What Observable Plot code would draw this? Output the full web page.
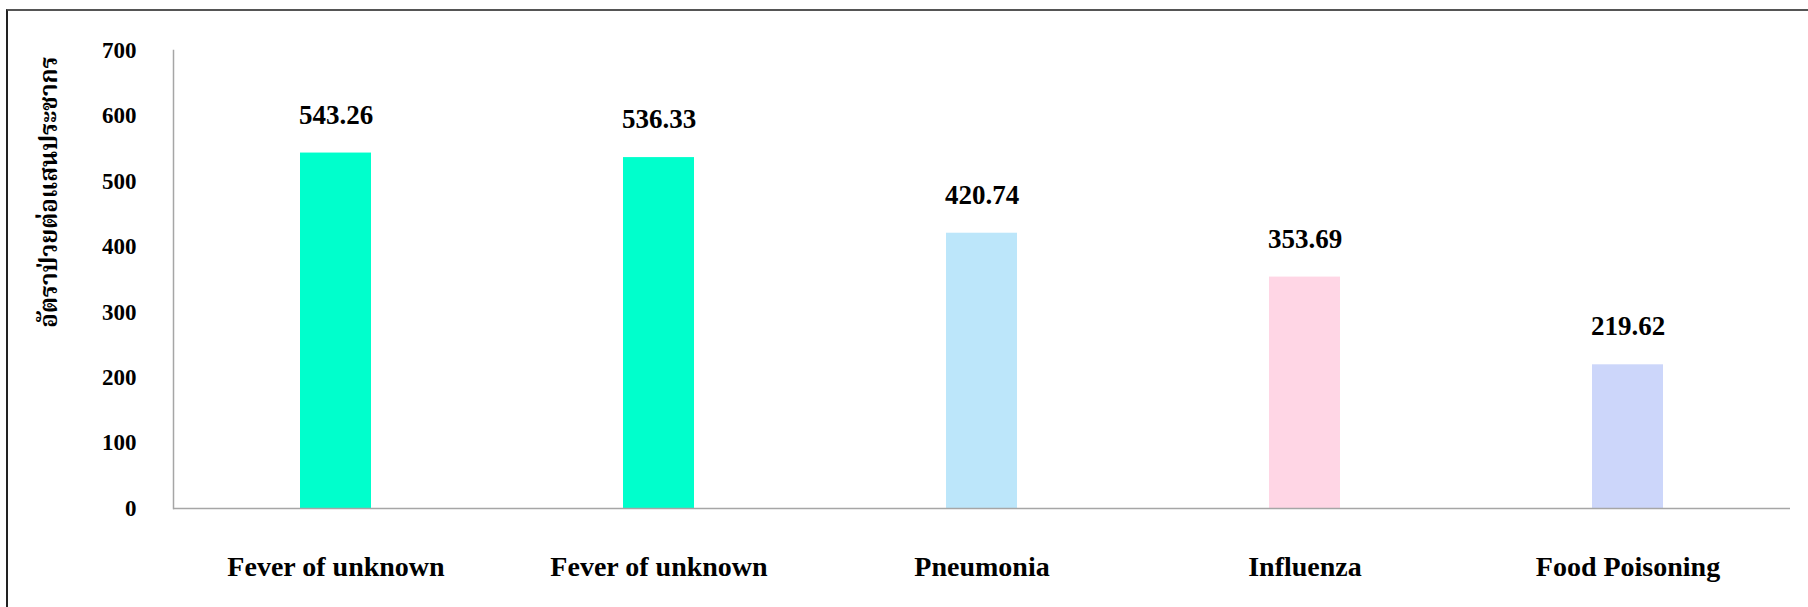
<!DOCTYPE html>
<html>
<head>
<meta charset="utf-8">
<script src="https://cdn.jsdelivr.net/npm/d3@7"></script>
<script src="https://cdn.jsdelivr.net/npm/@observablehq/plot@0.6"></script>
<style>
  html, body { margin: 0; padding: 0; background: #fff; overflow: hidden; }
  #wrap { position: relative; width: 1808px; height: 607px; overflow: hidden; }
  #frame { position: absolute; left: 6px; top: 9px; width: 1900px; height: 700px;
           border-left: 2px solid #222; border-top: 2px solid #555; box-sizing: border-box; pointer-events: none; }
  #ylabel { position: absolute; left: 50px; top: 192px; transform: translate(-50%, -50%) rotate(-90deg);
            white-space: nowrap; font-family: "Liberation Serif", "Noto Serif Thai", "Noto Sans Thai", serif;
            font-weight: bold; font-size: 24px; color: #000; }
  #chart { position: absolute; left: 0; top: 0; }
  #chart svg, #chart svg text { font-family: "Liberation Serif", "Times New Roman", serif !important; }
</style>
</head>
<body>
<div id="wrap">
  <div id="chart"></div>
  <div id="frame"></div>
  <div id="ylabel"></div>
</div>
<script>
const categories = ["Fever of unknown", "Fever of unknown", "Pneumonia", "Influenza", "Food Poisoning"];
const values = [543.26, 536.33, 420.74, 353.69, 219.62];
const barColors = ["#00FFCC", "#00FFCC", "#BCE6FA", "#FFD6E5", "#CCD6FA"];
const yTicks = [0, 100, 200, 300, 400, 500, 600, 700];
const yLabel = "อัตราป่วยต่อแสนประชากร";

const data = categories.map((c, i) => ({idx: i, name: c, value: values[i], color: barColors[i]}));
const serif = "'Liberation Serif', 'Times New Roman', serif";

const chart = Plot.plot({
  width: 1808,
  height: 607,
  marginLeft: 173,
  marginRight: 18,
  marginTop: 50,
  marginBottom: 99,
  style: {fontFamily: serif, background: "transparent"},
  x: {type: "band", domain: data.map(d => d.idx), paddingInner: 0.78, paddingOuter: 0.39, axis: null},
  y: {domain: [0, 700], axis: null},
  marks: [
    Plot.barY(data, {x: "idx", y: "value", fill: "color"}),
    Plot.axisY({ticks: yTicks, tickSize: 0, tickPadding: 37, fontSize: 23, fontWeight: "bold", fontFamily: serif, label: null, fill: "#000"}),
    Plot.axisX({tickSize: 0, tickPadding: 48, fontSize: 28, fontWeight: "bold", fontFamily: serif, label: null, fill: "#000",
                tickFormat: i => categories[i]}),
    Plot.frame({anchor: "left", stroke: "#A6A6A6", strokeWidth: 1.5}),
    Plot.ruleY([0], {stroke: "#A6A6A6", strokeWidth: 1.5}),
    Plot.text(data, {x: "idx", y: "value", text: d => d.value.toFixed(2), dy: -38,
                     fontSize: 27, fontWeight: "bold", fontFamily: serif, fill: "#000"})
  ]
});
document.getElementById("chart").appendChild(chart);
document.getElementById("ylabel").textContent = yLabel;
</script>
</body>
</html>
